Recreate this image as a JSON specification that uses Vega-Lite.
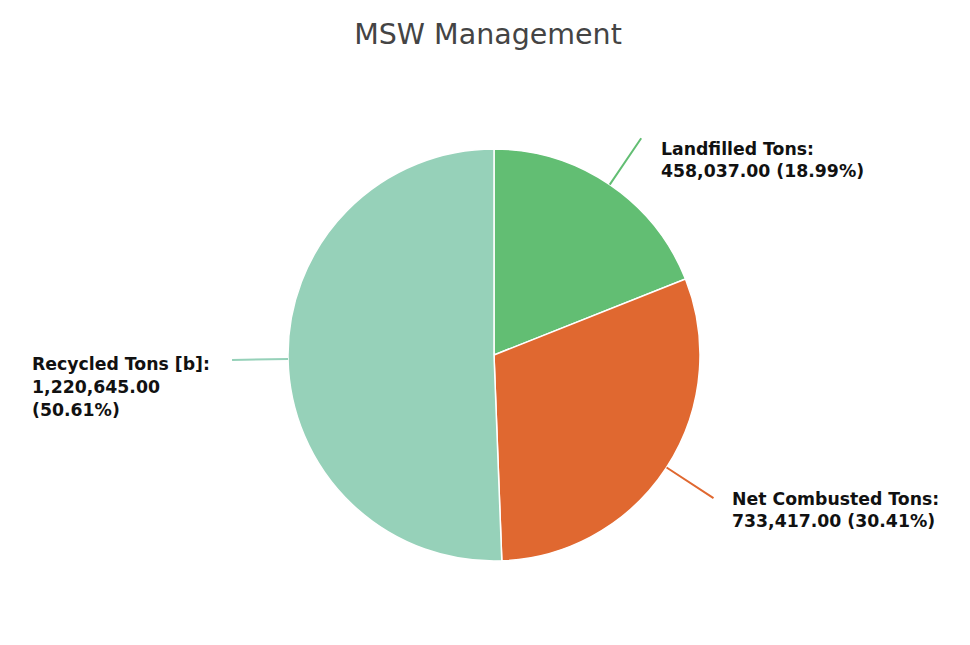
{
  "$schema": "https://vega.github.io/schema/vega-lite/v6.json",
  "autosize": {"type": "none"},
  "padding": {"left": 18, "top": 65, "right": 0, "bottom": 0},
  "width": 952,
  "height": 580,
  "background": "white",
  "config": {"view": {"stroke": null}, "font": "DejaVu Sans"},
  "title": {
    "text": "MSW Management",
    "font": "DejaVu Sans",
    "fontSize": 28.5,
    "fontWeight": "normal",
    "color": "#444444",
    "anchor": "middle",
    "dx": -6,
    "offset": 16
  },
  "data": {
    "values": [
      {"category": "Landfilled Tons", "tons": 458037, "label": "Landfilled Tons:\n458,037.00 (18.99%)"},
      {"category": "Net Combusted Tons", "tons": 733417, "label": "Net Combusted Tons:\n733,417.00 (30.41%)"},
      {"category": "Recycled Tons [b]", "tons": 1220645, "label": "Recycled Tons [b]:\n1,220,645.00\n(50.61%)"}
    ]
  },
  "transform": [
    {"stack": "tons", "groupby": [], "sort": [{"field": "category", "order": "ascending"}], "as": ["t0", "t1"]}
  ],
  "layer": [
    {
      "mark": {"type": "arc", "outerRadius": 206, "stroke": "white", "strokeWidth": 1.5},
      "encoding": {
        "theta": {"field": "t0", "type": "quantitative", "stack": null, "scale": {"domain": [0, 2412099], "zero": true, "nice": false}},
        "theta2": {"field": "t1"},
        "color": {
          "field": "category", "type": "nominal", "legend": null,
          "scale": {"domain": ["Landfilled Tons", "Net Combusted Tons", "Recycled Tons [b]"], "range": ["#62be73", "#e06830", "#96d1b9"]}
        }
      }
    },
    {
      "transform": [
        {"fold": ["t0", "t1"], "as": ["k", "v"]},
        {"aggregate": [{"op": "mean", "field": "v", "as": "mid"}], "groupby": ["category", "label"]}
      ],
      "mark": {"type": "arc", "radius": 262, "radius2": 206, "filled": false, "strokeWidth": 2, "strokeCap": "round"},
      "encoding": {
        "theta": {"field": "mid", "type": "quantitative", "stack": null, "scale": {"domain": [0, 2412099], "zero": true, "nice": false}},
        "theta2": {"field": "mid"},
        "stroke": {
          "field": "category", "type": "nominal", "legend": null,
          "scale": {"domain": ["Landfilled Tons", "Net Combusted Tons", "Recycled Tons [b]"], "range": ["#62be73", "#e06830", "#96d1b9"]}
        }
      }
    },
    {
      "transform": [
        {"fold": ["t0", "t1"], "as": ["k", "v"]},
        {"aggregate": [{"op": "mean", "field": "v", "as": "mid"}], "groupby": ["category", "label"]},
        {"filter": "datum.category === 'Landfilled Tons'"}
      ],
      "mark": {"type": "text", "radius": 262, "align": "left", "baseline": "alphabetic", "dx": 19.8, "dy": 16.3, "lineBreak": "\n", "lineHeight": 22.8, "font": "DejaVu Sans", "fontWeight": "bold", "fontSize": 17.3, "color": "#111111"},
      "encoding": {
        "theta": {"field": "mid", "type": "quantitative", "stack": null, "scale": {"domain": [0, 2412099], "zero": true, "nice": false}},
        "text": {"field": "label", "type": "nominal"}
      }
    },
    {
      "transform": [
        {"fold": ["t0", "t1"], "as": ["k", "v"]},
        {"aggregate": [{"op": "mean", "field": "v", "as": "mid"}], "groupby": ["category", "label"]},
        {"filter": "datum.category === 'Net Combusted Tons'"}
      ],
      "mark": {"type": "text", "radius": 262, "align": "left", "baseline": "alphabetic", "dx": 18.5, "dy": 6.5, "lineBreak": "\n", "lineHeight": 22.8, "font": "DejaVu Sans", "fontWeight": "bold", "fontSize": 17.3, "color": "#111111"},
      "encoding": {
        "theta": {"field": "mid", "type": "quantitative", "stack": null, "scale": {"domain": [0, 2412099], "zero": true, "nice": false}},
        "text": {"field": "label", "type": "nominal"}
      }
    },
    {
      "transform": [
        {"fold": ["t0", "t1"], "as": ["k", "v"]},
        {"aggregate": [{"op": "mean", "field": "v", "as": "mid"}], "groupby": ["category", "label"]},
        {"filter": "datum.category === 'Recycled Tons [b]'"}
      ],
      "mark": {"type": "text", "radius": 262, "align": "left", "baseline": "alphabetic", "dx": -200, "dy": 10.5, "lineBreak": "\n", "lineHeight": 22.8, "font": "DejaVu Sans", "fontWeight": "bold", "fontSize": 17.3, "color": "#111111"},
      "encoding": {
        "theta": {"field": "mid", "type": "quantitative", "stack": null, "scale": {"domain": [0, 2412099], "zero": true, "nice": false}},
        "text": {"field": "label", "type": "nominal"}
      }
    }
  ]
}
